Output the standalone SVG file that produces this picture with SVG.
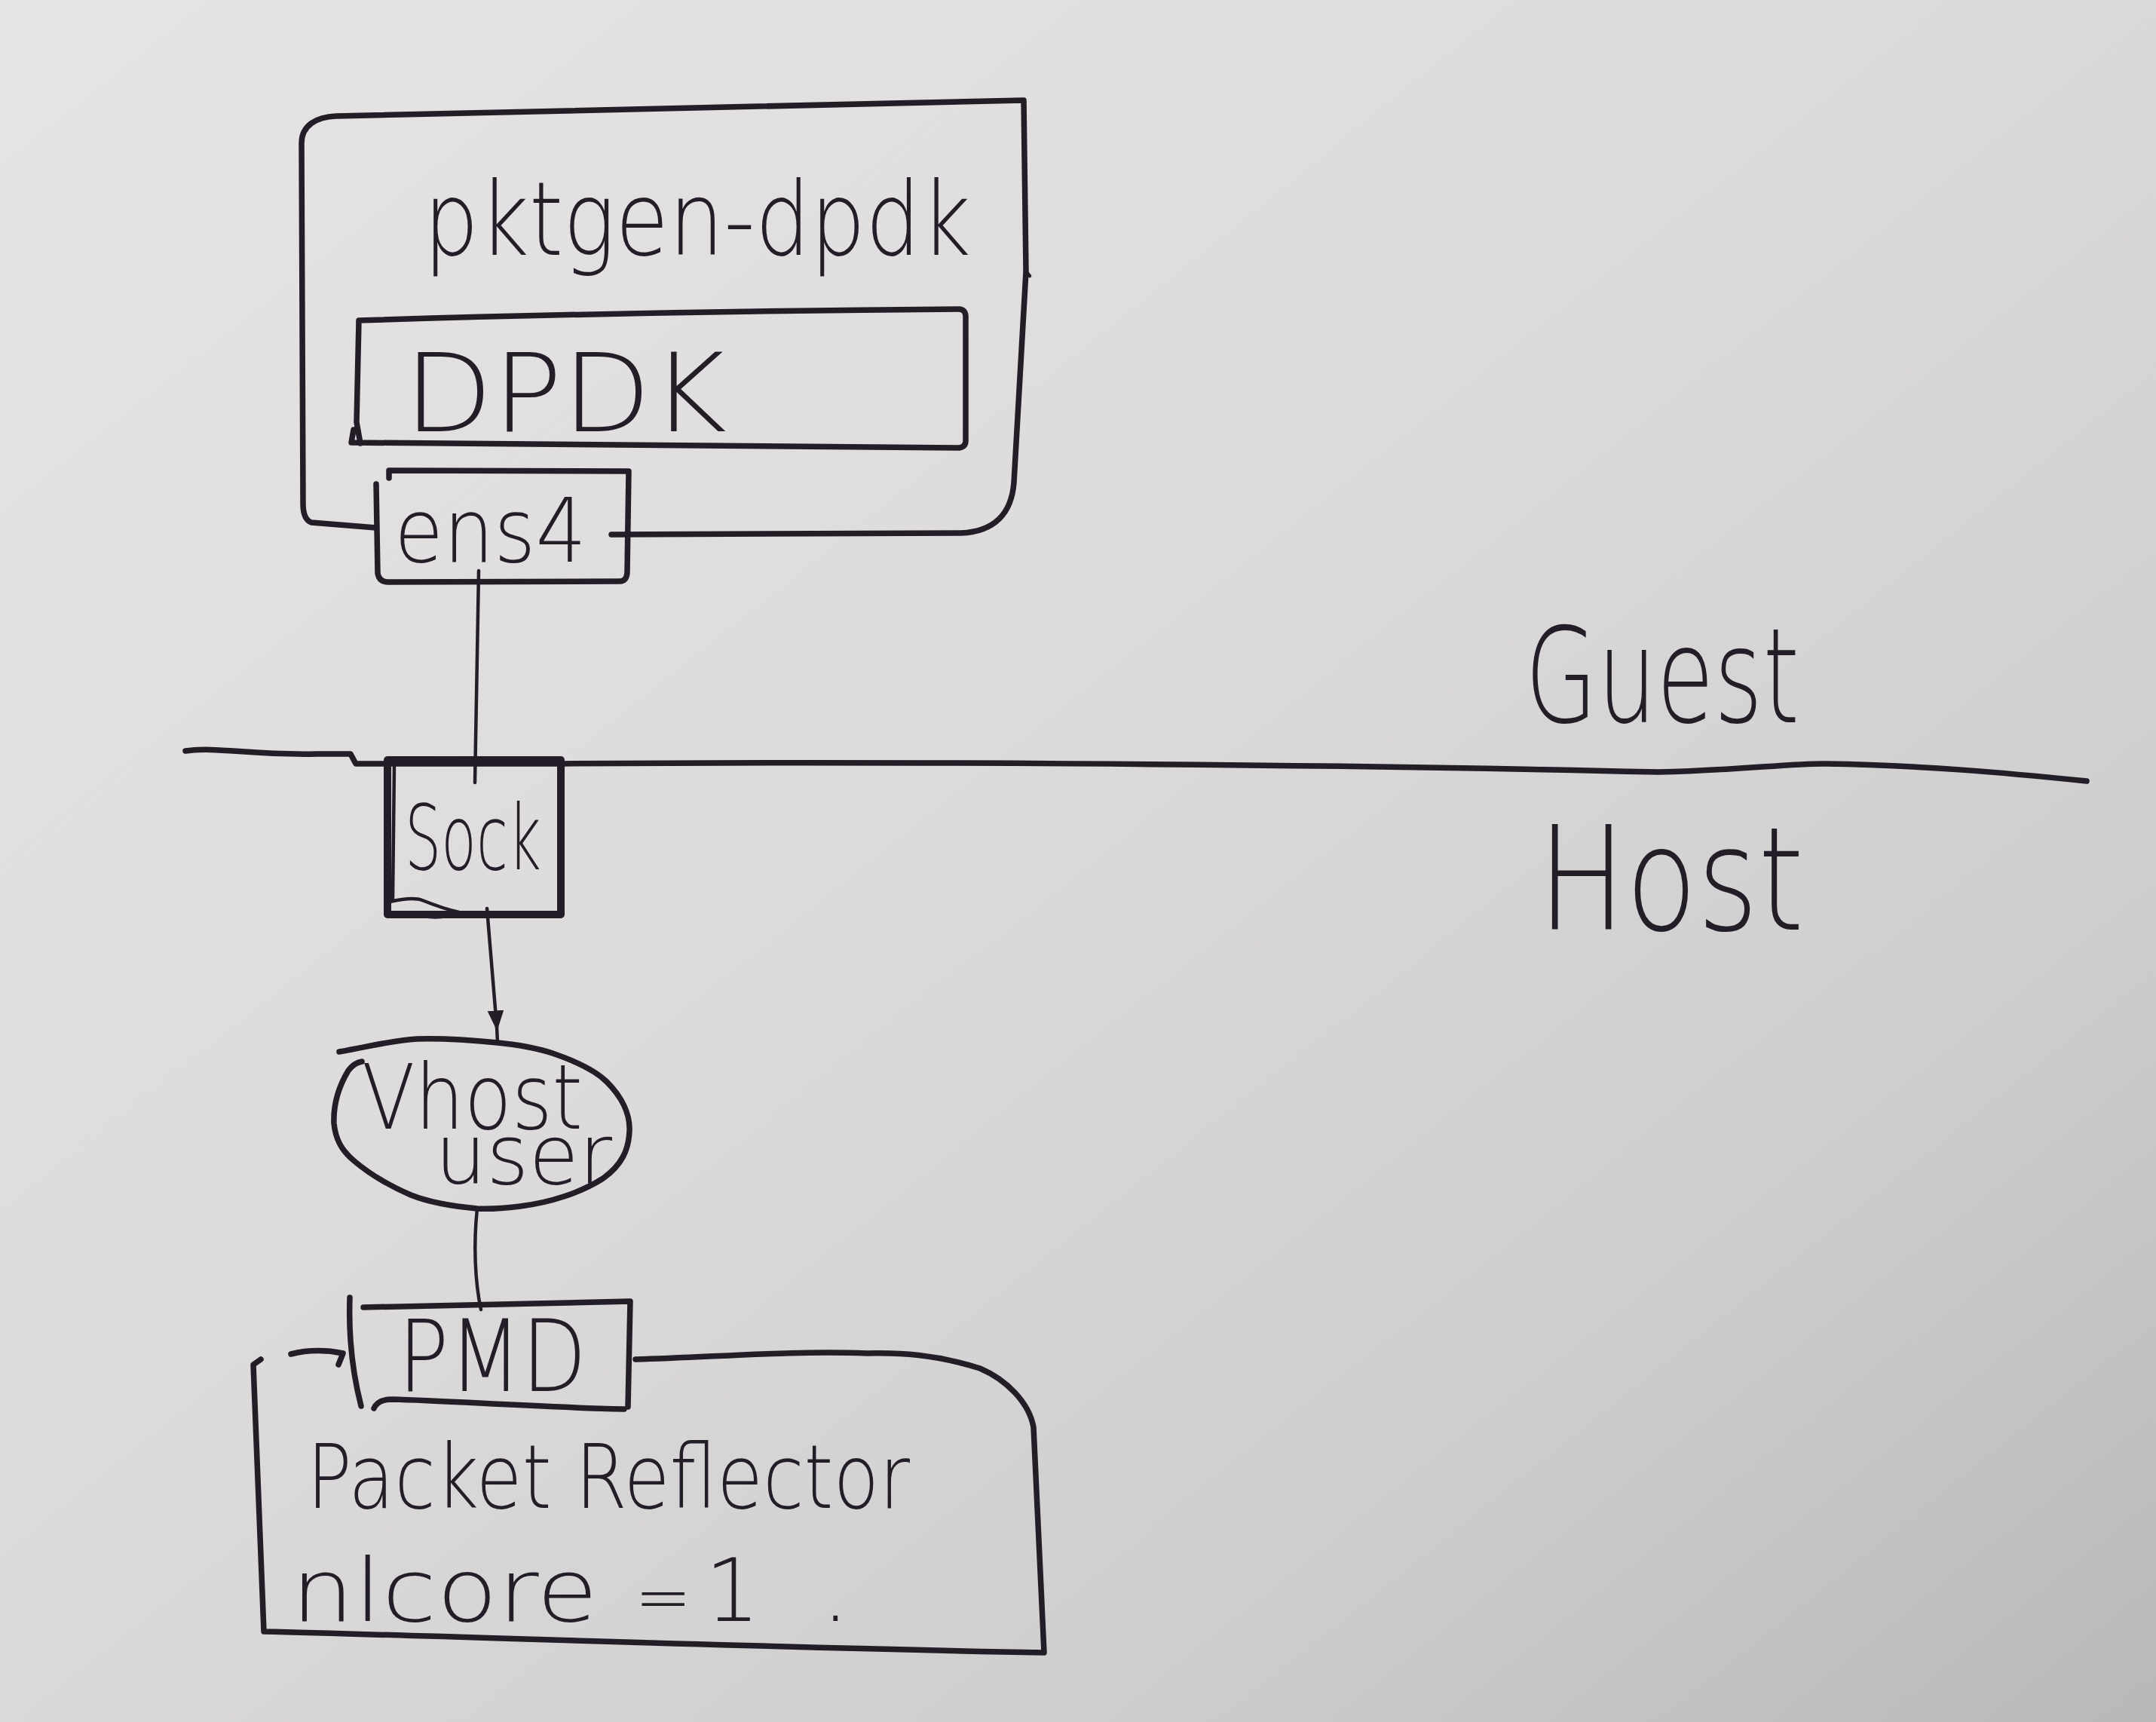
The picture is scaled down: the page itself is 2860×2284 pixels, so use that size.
<svg xmlns="http://www.w3.org/2000/svg" width="2860" height="2284" viewBox="0 0 2860 2284">
  <defs>
    <linearGradient id="paper" x1="0" y1="0" x2="1" y2="1">
      <stop offset="0" stop-color="#e6e4e4"/>
      <stop offset="0.45" stop-color="#dcdadb"/>
      <stop offset="0.75" stop-color="#cfcece"/>
      <stop offset="1" stop-color="#b9b8b8"/>
    </linearGradient>
    <marker id="arrow" viewBox="0 0 10 10" refX="8" refY="5" markerWidth="6" markerHeight="6" orient="auto" markerUnits="strokeWidth">
      <path d="M0,1 L10,5 L0,9 Z" fill="#221d27"/>
    </marker>
  </defs>
  <style>
    .ink{fill:none;stroke:#221d27;stroke-linecap:round;stroke-linejoin:round}
    .box{stroke-width:7.5}
    .heavy{stroke-width:10}
    .thin{stroke-width:4.5}
    .txt{font-family:"DejaVu Sans","Liberation Sans",sans-serif;font-weight:200;fill:#221d27}
  </style>
  <rect x="0" y="0" width="2860" height="2284" fill="url(#paper)"/>

  <g id="pktgen-dpdk">
    <path class="ink box" d="M499,700 L413,693 C405,690 402,680 402,668 L400,190 C400,166 420,155 446,154 C700,150 1000,140 1358,133 L1361,360 L1345,640 C1342,680 1320,705 1275,707 L811,709"/>
    <path class="ink thin" d="M1361,360 L1366,366"/>
    <text class="txt" x="562" y="338" font-size="135" textLength="726" lengthAdjust="spacingAndGlyphs">pktgen-dpdk</text>
  </g>

  <g id="dpdk">
    <path class="ink box" d="M478,588 L473,560 L476,425 C700,418 1000,412 1272,410 C1278,410 1281,414 1281,420 L1281,585 C1281,591 1277,594 1270,594 L466,587 L469,570"/>
    <text class="txt" x="536" y="572" font-size="145" textLength="428" lengthAdjust="spacingAndGlyphs">DPDK</text>
  </g>

  <g id="ens4">
    <path class="ink box" d="M499,642 L501,760 C502,768 507,772 515,772 L822,771 C829,771 832,766 832,758 L834,625 L516,624 L516,634"/>
    <text class="txt" x="523" y="745" font-size="118" textLength="255" lengthAdjust="spacingAndGlyphs">ens4</text>
  </g>

  <g id="guest-host-divider">
    <path class="ink box" d="M246,996 C290,990 330,1002 420,1000 L465,1000 L472,1013 L745,1013 C1100,1010 1700,1012 2200,1024 C2300,1022 2370,1013 2420,1013 C2550,1015 2660,1025 2768,1036"/>
    <text class="txt" x="2023" y="958" font-size="175" textLength="364" lengthAdjust="spacingAndGlyphs">Guest</text>
    <text class="txt" x="2040" y="1233" font-size="190" textLength="353" lengthAdjust="spacingAndGlyphs">Host</text>
  </g>

  <g id="sock">
    <path class="ink heavy" d="M514,1008 L744,1008 L744,1213 L514,1213 Z"/>
    <path class="ink thin" d="M523,1014 L521,1192 M517,1196 C535,1192 550,1190 560,1194 C580,1202 600,1208 609,1210 C595,1216 580,1217 569,1216"/>
    <text class="txt" x="537" y="1153" font-size="120" textLength="181" lengthAdjust="spacingAndGlyphs">Sock</text>
  </g>

  <g id="vhost-user">
    <path class="ink box" d="M450,1395 C490,1388 520,1380 553,1378 C590,1377 630,1380 660,1383 C690,1386 715,1391 733,1397 C765,1408 790,1420 805,1435 C825,1455 836,1478 835,1500 C834,1525 825,1545 800,1563 C770,1582 730,1595 690,1600 C665,1603 648,1604 633,1603 C600,1600 570,1595 545,1585 C515,1572 490,1557 470,1540 C452,1525 445,1510 443,1490 C442,1465 450,1440 462,1420 C468,1412 474,1409 480,1408"/>
    <text class="txt"><tspan x="480" y="1497" font-size="120" textLength="293" lengthAdjust="spacingAndGlyphs">Vhost</tspan><tspan x="577" y="1570" font-size="110" textLength="235" lengthAdjust="spacingAndGlyphs">user</tspan></text>
  </g>

  <g id="pmd">
    <path class="ink box" d="M482,1734 L836,1726 L833,1866 M828,1869 C700,1866 600,1858 520,1856 C506,1856 499,1861 496,1868 M464,1721 C462,1780 470,1830 479,1865"/>
    <text class="txt" x="528" y="1845" font-size="132" textLength="250" lengthAdjust="spacingAndGlyphs">PMD</text>
  </g>

  <g id="packet-reflector">
    <path class="ink box" d="M386,1796 C410,1790 435,1791 455,1795 L449,1810"/>
    <path class="ink box" d="M346,1803 L336,1810 L350,2164 C600,2170 1000,2185 1385,2192 L1371,1893 C1365,1860 1335,1830 1300,1815 C1240,1796 1193,1794 1150,1795 C1050,1791 950,1800 843,1803"/>
    <text class="txt" x="407" y="2000" font-size="118" textLength="800" lengthAdjust="spacingAndGlyphs">Packet Reflector</text>
    <text class="txt" font-size="115" y="2150"><tspan x="386" textLength="407" lengthAdjust="spacingAndGlyphs">nlcore</tspan> <tspan x="842" font-size="90">=</tspan> <tspan x="935">1</tspan> <tspan x="1090">.</tspan></text>
  </g>

  <g id="connectors">
    <path class="ink thin" d="M635,757 L630,1038"/>
    <path class="ink thin" d="M646,1205 C651,1265 656,1320 659,1362" marker-end="url(#arrow)"/>
    <path class="ink thin" d="M659,1362 L660,1383"/>
    <path class="ink thin" d="M633,1603 C628,1650 630,1700 638,1737"/>
  </g>
</svg>
